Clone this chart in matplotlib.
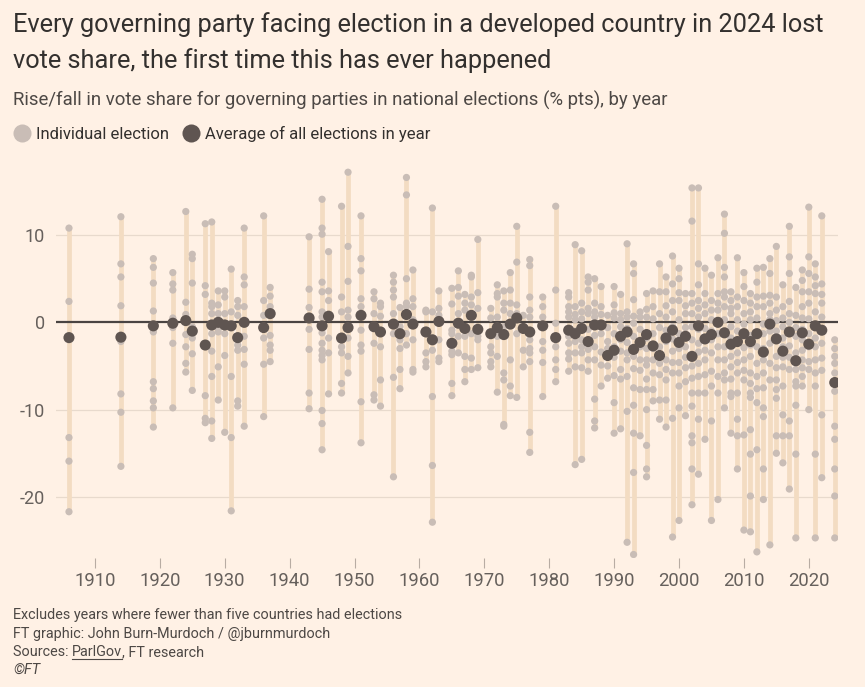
import matplotlib
matplotlib.use("Agg")
import matplotlib.pyplot as plt
from matplotlib.lines import Line2D

plt.rcParams["font.family"] = ["Roboto", "DejaVu Sans"]
plt.rcParams["axes.unicode_minus"] = False

# ---------------- data (rise/fall in vote share, % pts) ----------------
years = [1906, 1914, 1919, 1922, 1924, 1925, 1927, 1928, 1929, 1930, 1931, 1932, 1933,
         1936, 1937, 1943, 1945, 1946, 1948, 1949, 1951, 1953, 1954, 1956, 1957, 1958,
         1959, 1961, 1962, 1963, 1965, 1966, 1967, 1968, 1969, 1971, 1972, 1973, 1974,
         1975, 1976, 1977, 1979, 1981, 1983, 1984, 1985, 1986, 1987, 1988, 1989, 1990,
         1991, 1992, 1993, 1994, 1995, 1996, 1997, 1998, 1999, 2000, 2001, 2002, 2003,
         2004, 2005, 2006, 2007, 2008, 2009, 2010, 2011, 2012, 2013, 2014, 2015, 2016,
         2017, 2018, 2019, 2020, 2021, 2022, 2024]

averages = [-1.75, -1.7, -0.4, -0.1, 0.2, -1.0, -2.6, -0.3, 0.0, -0.3, -0.4, -1.75, 0.0,
            -0.6, 1.0, 0.5, -0.4, 0.7, -1.8, -0.6, 0.8, -0.5, -1.1, -0.2, -1.3, 0.9,
            -0.2, -1.1, -2.0, 0.1, -2.4, -0.1, -0.7, 0.8, -0.8, -1.3, -0.6, -1.4, -0.2,
            0.5, -0.7, -1.1, -0.4, -1.75, -0.9, -1.3, -0.7, -2.2, -0.3, -0.3, -3.8, -3.2,
            -1.6, -1.1, -3.1, -2.3, -1.4, -2.7, -3.8, -1.8, -0.9, -2.3, -1.6, -3.9, -0.4,
            -1.9, -1.4, 0.0, -1.2, -2.5, -2.2, -1.3, -2.2, -1.3, -3.4, -0.2, -1.9, -3.3,
            -1.1, -4.4, -1.2, -2.5, -0.4, -0.9, -6.9]

y1906 = [10.8, 2.4, -13.2, -15.9, -21.7]
y1914 = [12.1, 6.7, 5.2, 1.9, -2.2, -8.2, -10.3, -16.5]
y1919 = [7.3, 6.3, 4.5, 1.3, -1.1, -6.8, -7.6, -9.0, -9.8, -12.0]
y1922 = [5.7, 4.4, 3.7, 0.5, -0.6, -2.4, -9.8]
y1924 = [12.7, 2.3, 0.9, -1.4, -2.8, -4.7, -5.7]
y1925 = [7.8, 7.3, 4.5, -0.5, -1.8, -3.6, -7.8]
y1927 = [11.3, 4.2, 3.2, -8.4, -11.0, -11.5]
y1928 = [11.5, 2.2, 1.8, 1.0, -0.5, -1.3, -3.3, -6.2, -11.3, -13.3]
y1929 = [3.6, 2.0, 1.0, -0.7, -1.1, -5.1, -8.9]
y1930 = [3.6, 2.9, 1.0, -1.3, -3.8, -12.6]
y1931 = [6.1, 1.2, -0.4, -6.2, -13.2, -21.6]
y1932 = [2.5, 1.8, 0.8, -2.6, -3.2, -9.0, -9.6]
y1933 = [10.8, 5.2, 4.3, 1.8, -1.6, -3.1, -4.8, -11.9]
y1936 = [12.2, 2.5, 0.8, -1.8, -4.8, -10.8]
y1937 = [4.0, 3.0, 1.8, -1.5, -2.6, -3.2, -4.5]
y1943 = [9.8, 3.8, 1.7, -0.8, -3.1, -8.1, -9.9]
y1945 = [14.1, 10.8, 10.1, 4.6, 3.5, 1.2, 0.6, -1.2, -2.4, -3.2, -3.8, -4.3, -10.1, -11.6, -14.6]
y1946 = [8.1, 3.6, 2.5, 0.6, -1.8, -3.5, -8.2]
y1948 = [13.3, 2.9, 1.2, -2.8, -3.5, -7.0, -8.1]
y1949 = [17.2, 8.7, 4.7, 1.4, 0.6, -1.8, -3.9, -5.8]
y1951 = [12.2, 7.3, 5.9, 2.7, 1.8, -0.9, -2.6, -3.3, -9.1, -13.8]
y1953 = [3.5, 2.7, 1.0, -2.4, -8.3, -8.9]
y1954 = [2.2, 1.8, 0.7, -2.8, -6.6, -9.6]
y1956 = [5.4, 4.6, 3.7, 2.9, 1.0, -1.3, -6.3, -17.7]
y1957 = [1.7, -0.5, -2.0, -3.0, -5.4, -7.6]
y1958 = [16.6, 14.6, 5.0, 2.2, 1.8, -1.3, -2.6]
y1959 = [6.0, 2.7, 1.8, 0.3, -2.0, -5.4, -5.7]
y1961 = [1.4, 1.2, -1.3, -3.5, -4.5, -5.1]
y1962 = [13.1, 1.2, -2.0, -3.2, -8.5, -16.4, -22.9]
y1963 = [3.6, 1.6, 0.8, -2.0, -4.1, -4.5]
y1965 = [3.9, 2.1, -0.9, -1.3, -3.3, -3.7, -7.0, -8.4]
y1966 = [5.9, 4.0, 3.0, 1.0, -1.6, -3.5]
y1967 = [3.2, 2.2, 1.4, -1.6, -3.9, -5.4, -6.8]
y1968 = [5.4, 5.2, 2.9, 2.0, -1.3, -4.1, -5.4]
y1969 = [9.5, 3.4, 1.6, -1.6, -2.0, -5.2]
y1971 = [1.6, 0.5, -1.3, -2.8, -3.5, -4.5, -5.1]
y1972 = [4.3, 3.3, 2.9, 0.6, -1.6, -3.9, -8.0]
y1973 = [3.6, 2.2, 1.4, -0.5, -5.8, -6.6, -11.7, -11.9]
y1974 = [5.7, 3.7, 2.2, 1.0, -4.3, -7.3, -8.4]
y1975 = [11.0, 6.9, 2.0, 1.0, -1.3, -8.6]
y1976 = [0.8, -0.5, -3.2, -5.1]
y1977 = [7.2, 6.5, 2.9, 1.4, 0.6, -2.0, -3.0, -3.5, -4.5, -12.6, -14.9]
y1979 = [2.9, 1.8, 0.6, -0.5, -2.2, -3.2, -4.6, -8.5]
y1981 = [13.3, 3.7, -0.1, -2.8, -4.3, -5.4, -6.8]
y1983 = [3.4, 2.9, 1.8, 1.2, 0.6, -0.9, -1.6, -2.4, -3.5, -4.2, -5.6]
y1984 = [8.9, 1.8, 0.9, 0.3, -1.0, -2.2, -3.5, -5.1, -16.3]
y1985 = [8.2, 2.2, 1.2, 0.4, -2.0, -2.8, -3.5, -5.2, -15.7]
y1986 = [5.2, 4.6, 3.7, 1.6, 1.0, -0.8, -2.2, -3.1, -4.3, -5.6]
y1987 = [5.0, 2.2, 1.2, 0.6, -1.5, -2.8, -4.3, -8.8, -11.3, -12.1]
y1988 = [4.1, 1.8, 0.9, -0.1, -1.3, -3.4, -4.9, -7.3]
y1989 = [0.8, -0.6, -2.2, -3.0, -3.9, -5.0, -6.4]
y1990 = [4.1, 2.0, 1.1, 0.5, -1.3, -2.8, -4.0, -6.1, -9.2, -12.7]
y1991 = [3.2, 1.0, 0.3, -0.5, -2.0, -3.3, -5.4, -6.5, -12.2]
y1992 = [9.0, 1.2, 0.6, -0.7, -2.3, -3.5, -4.3, -6.2, -10.2, -25.2]
y1993 = [6.7, 5.6, 2.6, 0.7, -0.1, -1.6, -3.9, -5.3, -7.5, -9.5, -12.7, -17.2, -26.6]
y1994 = [1.2, 0.6, -0.8, -2.8, -4.3, -5.5, -7.7, -13.0]
y1995 = [3.3, 1.5, 0.6, -1.8, -3.0, -4.3, -4.9, -6.5, -7.7, -10.0, -14.1, -16.8, -17.7]
y1996 = [3.6, 1.8, 0.4, -1.3, -3.0, -4.3, -5.8, -7.7, -9.0]
y1997 = [6.7, 3.5, 1.0, -0.6, -2.8, -4.7, -6.0, -8.9, -11.1]
y1998 = [5.2, 3.5, 1.9, 0.6, -0.9, -2.2, -4.3, -5.4, -6.6, -8.9, -12.0]
y1999 = [7.6, 4.4, 2.5, 1.2, -0.5, -1.9, -3.3, -4.6, -5.8, -11.0, -24.6]
y2000 = [6.2, 5.0, 3.4, 2.5, 0.3, -1.3, -3.0, -4.6, -5.8, -7.3, -9.8, -22.7]
y2001 = [3.3, 1.9, 1.0, -0.6, -2.8, -4.0, -5.2, -6.8, -10.7]
y2002 = [15.4, 11.6, 3.3, 2.2, 1.0, -0.5, -2.0, -3.9, -5.0, -6.4, -8.1, -9.6, -13.0, -13.8, -16.8, -20.9]
y2003 = [15.4, 6.7, 4.3, 2.5, 1.6, 0.6, -0.8, -2.4, -3.4, -4.7, -6.2, -8.1, -11.1, -17.4]
y2004 = [6.2, 3.3, 2.0, 1.0, -0.7, -2.0, -3.2, -4.3, -6.0, -8.1, -13.4]
y2005 = [5.4, 2.5, 1.4, 0.3, -1.0, -2.0, -3.5, -5.6, -7.3, -11.3, -22.7]
y2006 = [7.4, 3.3, 2.2, 1.4, 0.2, -1.3, -2.8, -4.3, -6.2, -8.1, -20.3]
y2007 = [12.4, 10.2, 6.3, 5.2, 3.5, 2.9, 1.8, 0.3, -1.2, -2.8, -4.3, -5.8, -6.6, -9.8]
y2008 = [3.5, 2.5, 1.6, 1.0, -0.5, -1.8, -2.8, -3.9, -5.1, -6.5, -8.1, -8.5, -12.7]
y2009 = [7.4, 2.9, 1.8, 0.3, -1.0, -2.2, -3.5, -4.6, -5.8, -8.1, -11.1, -13.0, -16.8]
y2010 = [5.7, 4.1, 2.5, 1.0, -0.2, -1.3, -2.9, -4.3, -5.5, -6.6, -12.9, -23.8]
y2011 = [3.3, 2.2, 1.2, 0.3, -1.5, -2.6, -3.9, -5.8, -7.0, -8.1, -8.6, -12.3, -15.1, -19.9, -24.0]
y2012 = [6.2, 4.6, 2.9, 1.8, 0.5, -1.3, -2.8, -4.7, -6.2, -7.6, -9.2, -14.6, -26.3]
y2013 = [6.3, 3.0, 1.8, -0.2, -1.3, -3.0, -4.3, -5.8, -7.5, -9.8, -10.8, -16.8, -20.3]
y2014 = [7.3, 5.6, 3.1, 2.2, 1.0, 0.3, -1.0, -2.4, -4.7, -6.6, -25.5]
y2015 = [8.7, 2.9, 1.4, 0.2, -1.0, -2.0, -3.9, -5.2, -6.6, -7.7, -8.7, -13.0, -15.0]
y2016 = [4.3, 1.8, 0.5, -0.5, -1.8, -2.8, -4.0, -5.1, -7.3, -10.6, -13.0, -16.1]
y2017 = [11.0, 7.5, 5.6, 2.4, 1.0, 0.0, -1.3, -2.7, -4.0, -5.4, -11.3, -13.0, -19.1]
y2018 = [4.0, 0.8, -0.6, -1.6, -3.5, -4.6, -5.4, -6.8, -7.3, -9.5, -15.1, -24.7]
y2019 = [6.0, 4.8, 3.5, 1.8, 0.5, -0.8, -2.0, -3.2, -4.3, -5.2, -6.2, -7.3]
y2020 = [13.2, 7.5, 5.6, 3.5, 2.2, 0.4, -1.3, -2.8, -4.5, -5.4, -10.0]
y2021 = [6.7, 5.2, 4.2, 3.3, 1.2, -0.5, -1.8, -2.8, -4.3, -5.8, -7.3, -15.1, -24.7]
y2022 = [12.2, 4.4, 3.2, 2.2, 0.6, -0.9, -2.4, -4.1, -5.5, -10.6, -17.8]
y2024 = [-2.0, -3.0, -3.9, -4.7, -5.8, -7.9, -11.9, -13.4, -16.8, -19.9, -24.7]

y_ticks = [10, 0, -10, -20]
x_ticks = [1910, 1920, 1930, 1940, 1950, 1960, 1970, 1980, 1990, 2000, 2010, 2020]

individual = [globals()["y%d" % yr] for yr in years]

# ---------------- styling ----------------
BG = "#fff1e5"
BAR = "#f3dcc2"
DOT = "#c9bdb6"
AVG = "#5f5551"
ZERO = "#4a4442"
GRID = "#e8dacd"
TXT = "#33302e"
SUB = "#4d4845"
TICK = "#66605c"

W, H = 865, 687
fig = plt.figure(figsize=(W / 100, H / 100), dpi=100, facecolor=BG)


def fx(x):
    return x / W


def fy(y):
    return 1 - y / H


ax = fig.add_axes([fx(56), fy(558), (838 - 56) / W, (558 - 160) / H])
ax.set_facecolor(BG)
ax.set_xlim(1904.0, 2024.5)
ax.set_ylim(-27.0, 18.6)

for t in y_ticks:
    if t != 0:
        ax.axhline(t, color=GRID, lw=0.9, zorder=0)

lows = [min(v) for v in individual]
highs = [max(v) for v in individual]
ax.vlines(years, lows, highs, color=BAR, lw=3.4, zorder=1)
ax.axhline(0, color=ZERO, lw=1.6, zorder=2)

xs, ys = [], []
for yr, vals in zip(years, individual):
    xs.extend([yr] * len(vals))
    ys.extend(vals)
ax.scatter(xs, ys, s=27, color=DOT, edgecolors="none", zorder=3)
ax.scatter(years, averages, s=64, color=AVG, edgecolors="none", zorder=4)

for s in ax.spines.values():
    s.set_visible(False)
ax.set_yticks(y_ticks)
ax.set_yticklabels([str(t) for t in y_ticks])
ax.tick_params(axis="y", length=0, pad=8, labelsize=13, labelcolor=TICK)
ax.set_xticks(x_ticks)
ax.set_xticklabels([str(t) for t in x_ticks])
ax.tick_params(axis="x", length=7, width=0.8, color="#b8aca3", pad=3,
               labelsize=13.3, labelcolor=TICK)

# ---------------- texts ----------------
TS = 18.3
fig.text(fx(13), fy(32), "Every governing party facing election in a developed country in 2024 lost",
         fontsize=TS, color=TXT, va="baseline")
fig.text(fx(13), fy(68), "vote share, the first time this has ever happened",
         fontsize=TS, color=TXT, va="baseline")
fig.text(fx(13), fy(106), "Rise/fall in vote share for governing parties in national elections (% pts), by year",
         fontsize=13.4, color=SUB, va="baseline")

# legend
fig.add_artist(Line2D([fx(22)], [fy(133)], marker="o", markersize=13, color=DOT,
                      markeredgewidth=0, linestyle="none", transform=fig.transFigure))
fig.text(fx(36), fy(139), "Individual election", fontsize=12, color=TXT, va="baseline")
fig.add_artist(Line2D([fx(191)], [fy(133)], marker="o", markersize=13, color=AVG,
                      markeredgewidth=0, linestyle="none", transform=fig.transFigure))
fig.text(fx(205), fy(139), "Average of all elections in year", fontsize=12, color=TXT, va="baseline")

# footnotes
FN = 10.4
fig.text(fx(13), fy(619), "Excludes years where fewer than five countries had elections",
         fontsize=FN, color=SUB, va="baseline")
fig.text(fx(13), fy(638), "FT graphic: John Burn-Murdoch / @jburnmurdoch",
         fontsize=FN, color=SUB, va="baseline")
t1 = fig.text(fx(13), fy(656), "Sources: ", fontsize=FN, color=SUB, va="baseline")
fig.canvas.draw()
r = fig.canvas.get_renderer()
bb = t1.get_window_extent(r)
t2 = fig.text(bb.x1 / W, fy(656), "ParlGov", fontsize=FN, color=SUB, va="baseline")
bb2 = t2.get_window_extent(r)
fig.add_artist(Line2D([bb2.x0 / W, bb2.x1 / W], [fy(658.5), fy(658.5)], color=SUB, lw=0.8,
                      transform=fig.transFigure))
fig.text(bb2.x1 / W, fy(656), ", FT research", fontsize=FN, color=SUB, va="baseline")
fig.text(fx(13), fy(674), "\u00a9FT", fontsize=FN, color=SUB, va="baseline", style="italic")

fig.savefig("out.png", dpi=100, facecolor=BG)
